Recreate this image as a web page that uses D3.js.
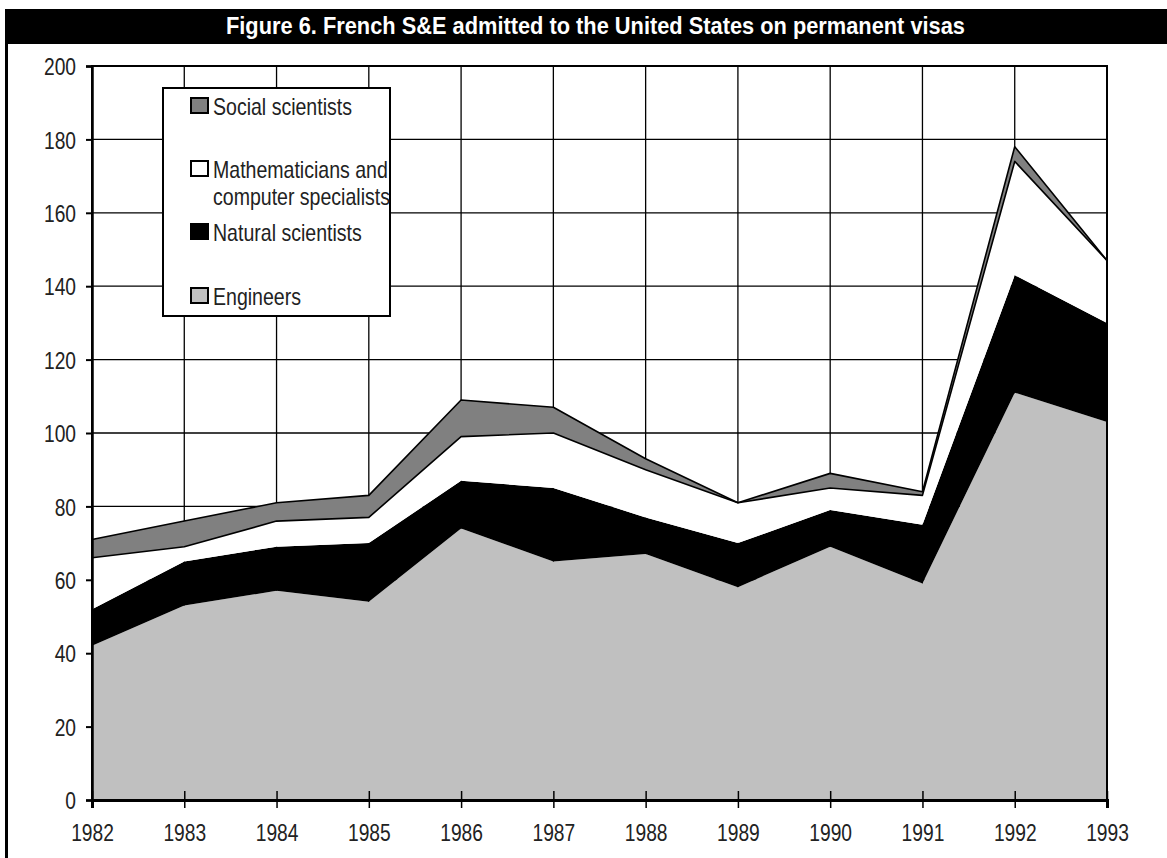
<!DOCTYPE html>
<html>
<head>
<meta charset="utf-8">
<script src="https://cdn.jsdelivr.net/npm/d3@7"></script>
<style>
  body { margin: 0; background: #fff; }
  svg { display: block; font-family: "Liberation Sans", Arial, sans-serif; }
</style>
</head>
<body>
<div id="chart"></div>
<script>
// Data
let years = [1982, 1983, 1984, 1985, 1986, 1987, 1988, 1989, 1990, 1991, 1992, 1993];
let engineers = [42, 53, 57, 54, 74, 65, 67, 58, 69, 59, 111, 103];
let naturalScientists = [10, 12, 12, 16, 13, 20, 10, 12, 10, 16, 32, 27];
let mathematicians = [14, 4, 7, 7, 12, 15, 13, 11, 6, 8, 31, 17];
let socialScientists = [5, 7, 5, 6, 10, 7, 3, 0, 4, 1, 4, 0];
let yTicks = [0, 20, 40, 60, 80, 100, 120, 140, 160, 180, 200];

let seriesKeys = ['eng', 'nat', 'math', 'soc'];
let seriesFill = { eng: '#c0c0c0', nat: '#000000', math: '#ffffff', soc: '#808080' };

let data = years.map(function (yr, i) {
    return { year: yr, eng: engineers[i], nat: naturalScientists[i], math: mathematicians[i], soc: socialScientists[i] };
});

// narrow look: Arial squeezed horizontally
let narrow = 0.8;

// Dimensions
let W = 1167, H = 858;
let margin = { top: 66, right: 60, bottom: 58, left: 92 },
    width = W - margin.left - margin.right,
    height = H - margin.top - margin.bottom;

let x = d3.scaleLinear().domain([1982, 1993]).range([0, width]);
let y = d3.scaleLinear().domain([0, 200]).range([height, 0]);

let svg = d3.select('#chart')
    .append('svg')
    .attr('width', W)
    .attr('height', H);

// Frame: title bar and left rule
svg.append('rect')
    .attr('x', 5).attr('y', 9)
    .attr('width', W - 5).attr('height', 35)
    .attr('fill', '#000');
svg.append('line')
    .attr('x1', 6.5).attr('x2', 6.5)
    .attr('y1', 9).attr('y2', H)
    .attr('stroke', '#000').attr('stroke-width', 3);
svg.append('text')
    .attr('x', 226).attr('y', 34)
    .attr('fill', '#fff')
    .attr('font-size', 24)
    .attr('textLength', 739)
    .attr('lengthAdjust', 'spacingAndGlyphs')
    .style('font-weight', 600)
    .text('Figure 6. French S&E admitted to the United States on permanent visas');

let g = svg.append('g')
    .attr('transform', 'translate(' + margin.left + ',' + margin.top + ')');

// Grid
g.append('g')
    .selectAll('line')
    .data(yTicks.slice(1))
    .join('line')
    .attr('x1', 0).attr('x2', width)
    .attr('y1', d => y(d)).attr('y2', d => y(d))
    .attr('stroke', '#000').attr('stroke-width', 1.3);
g.append('g')
    .selectAll('line')
    .data(years.slice(1, -1))
    .join('line')
    .attr('x1', d => x(d)).attr('x2', d => x(d))
    .attr('y1', 0).attr('y2', height)
    .attr('stroke', '#000').attr('stroke-width', 1.3);

// Stacked areas
let stack = d3.stack().keys(seriesKeys);
let layers = stack(data);

let area = d3.area()
    .x(d => x(d.data.year))
    .y0(d => y(d[0]))
    .y1(d => y(d[1]));

g.append('g')
    .selectAll('path')
    .data(layers)
    .join('path')
    .attr('fill', d => seriesFill[d.key])
    .attr('d', area);

// Outline the tops of the upper two bands
let topLine = d3.line()
    .x(d => x(d.data.year))
    .y(d => y(d[1]));
g.append('g')
    .selectAll('path')
    .data(layers.filter(d => d.key === 'math' || d.key === 'soc'))
    .join('path')
    .attr('fill', 'none')
    .attr('stroke', '#000')
    .attr('stroke-width', 1.6)
    .attr('stroke-linejoin', 'round')
    .attr('d', topLine);

// Plot border
g.append('rect')
    .attr('x', 0).attr('y', 0)
    .attr('width', width).attr('height', height)
    .attr('fill', 'none')
    .attr('stroke', '#000').attr('stroke-width', 2);

// Y axis
let yAxis = g.append('g')
    .call(d3.axisLeft(y).tickValues(yTicks).tickSize(6).tickPadding(14));
yAxis.select('.domain').attr('stroke-width', 2.5);
yAxis.selectAll('.tick line').attr('stroke-width', 2);
yAxis.selectAll('text')
    .attr('font-size', 24)
    .attr('fill', '#222')
    .attr('font-family', null)
    .attr('dy', '0.36em')
    .attr('transform', 'scale(' + narrow + ',1)');

// X axis with crossing ticks
let xAxis = g.append('g')
    .attr('transform', 'translate(0,' + height + ')')
    .call(d3.axisBottom(x).tickValues(years).tickFormat(d3.format('d')).tickSize(8).tickPadding(16));
xAxis.select('.domain').attr('stroke-width', 3);
xAxis.selectAll('.tick line').attr('y1', -9).attr('stroke-width', 1.5);
xAxis.selectAll('text')
    .attr('font-size', 24)
    .attr('fill', '#222')
    .attr('font-family', null)
    .attr('transform', 'scale(' + narrow + ',1)');

// Legend
let legendItems = [
    { key: 'soc', lines: ['Social scientists'], top: 98 },
    { key: 'math', lines: ['Mathematicians and', 'computer specialists'], top: 161 },
    { key: 'nat', lines: ['Natural scientists'], top: 224 },
    { key: 'eng', lines: ['Engineers'], top: 288 }
];

let legend = svg.append('g');
legend.append('rect')
    .attr('x', 163).attr('y', 88)
    .attr('width', 227).attr('height', 228)
    .attr('fill', '#fff')
    .attr('stroke', '#000').attr('stroke-width', 2);

let li = legend.selectAll('g.item')
    .data(legendItems)
    .join('g')
    .attr('class', 'item');
li.append('rect')
    .attr('x', 191).attr('y', d => d.top)
    .attr('width', 17).attr('height', 15)
    .attr('fill', d => seriesFill[d.key])
    .attr('stroke', '#000').attr('stroke-width', 2);
li.append('g')
    .attr('transform', d => 'translate(213,' + (d.top + 17) + ') scale(0.85,1)')
    .append('text')
    .attr('font-size', 23)
    .attr('fill', '#222')
    .selectAll('tspan')
    .data(d => d.lines)
    .join('tspan')
    .attr('x', 0)
    .attr('dy', (d, i) => i === 0 ? 0 : 27)
    .text(d => d);
</script>
</body>
</html>
